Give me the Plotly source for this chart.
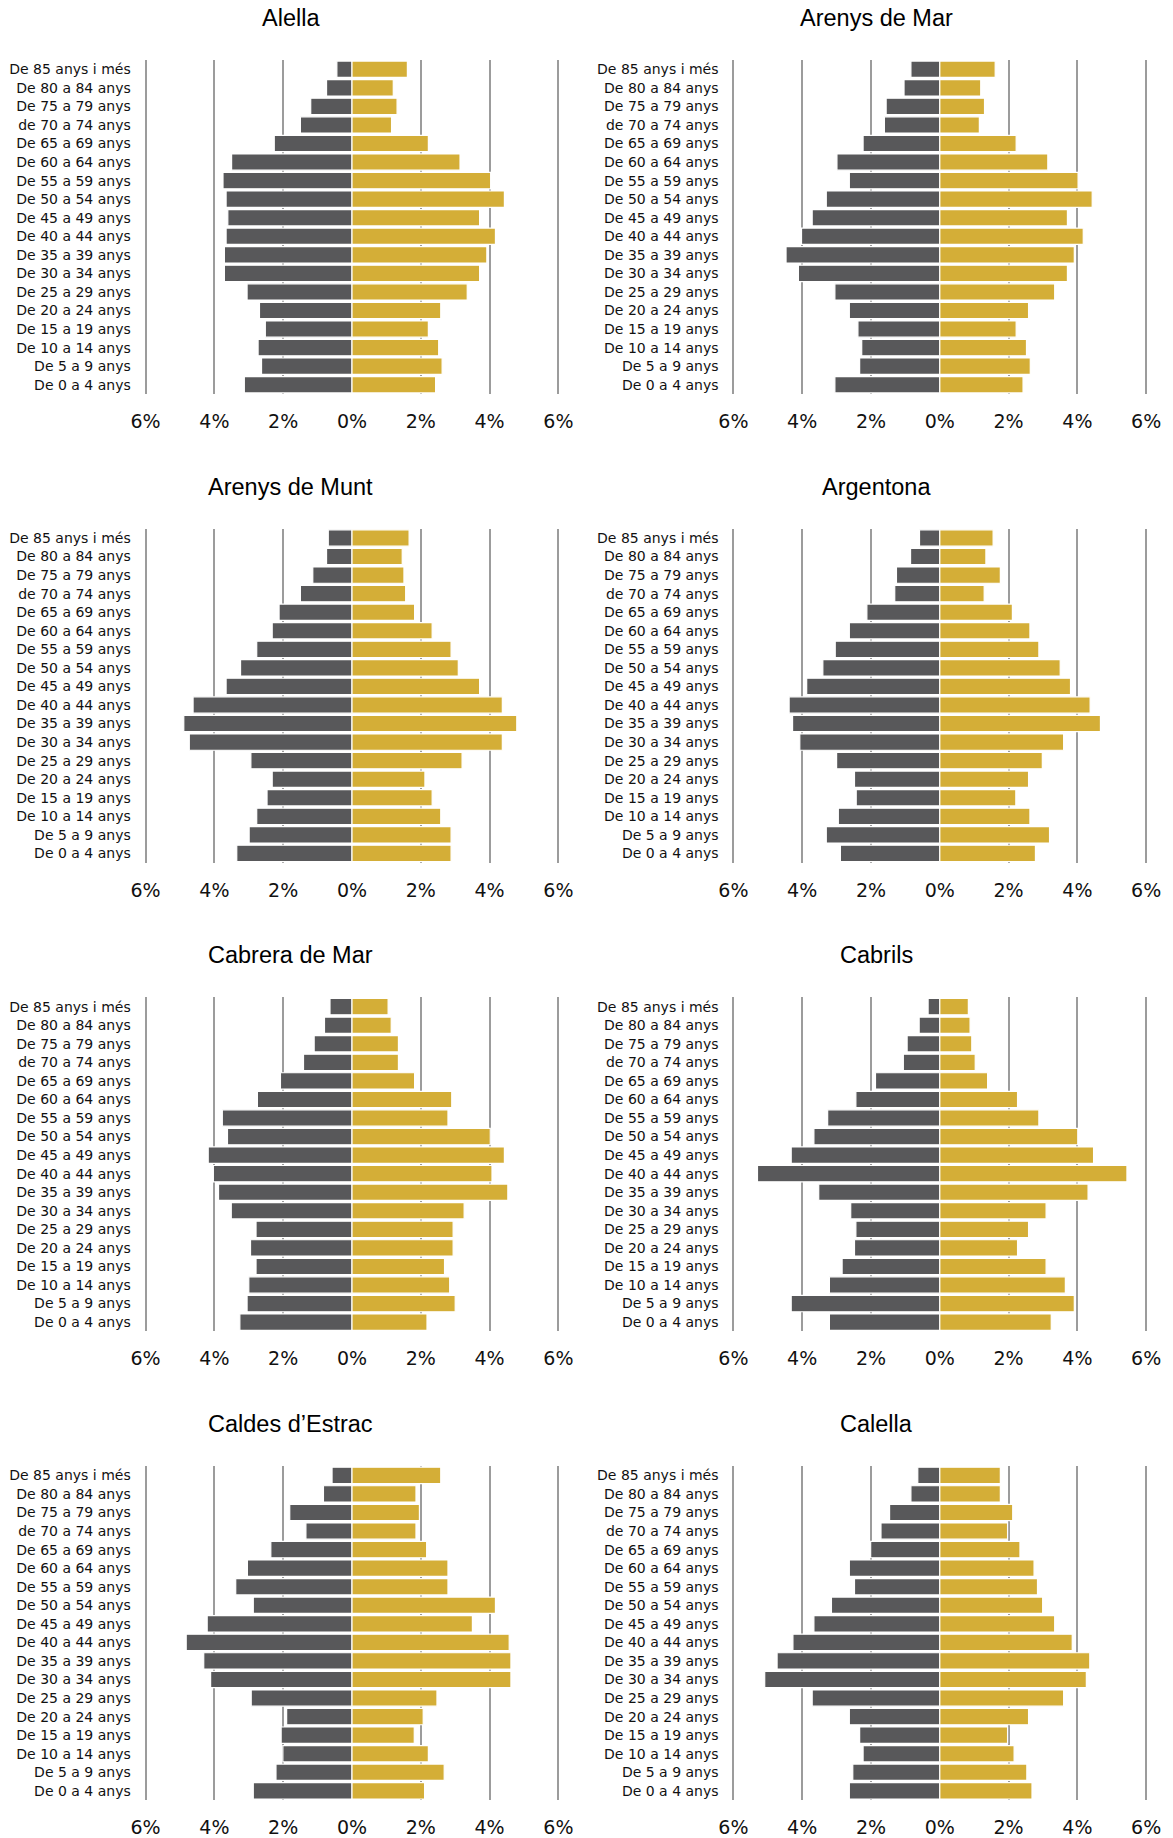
import plotly.graph_objects as go

W, H = 1173, 1838

ages = ["De 85 anys i més", "De 80 a 84 anys", "De 75 a 79 anys", "de 70 a 74 anys",
        "De 65 a 69 anys", "De 60 a 64 anys", "De 55 a 59 anys", "De 50 a 54 anys",
        "De 45 a 49 anys", "De 40 a 44 anys", "De 35 a 39 anys", "De 30 a 34 anys",
        "De 25 a 29 anys", "De 20 a 24 anys", "De 15 a 19 anys", "De 10 a 14 anys",
        "De 5 a 9 anys", "De 0 a 4 anys"]

towns = ["Alella", "Arenys de Mar", "Arenys de Munt", "Argentona",
         "Cabrera de Mar", "Cabrils", "Caldes d\u2019Estrac", "Calella"]

# percentages, ordered top (85+) to bottom (0-4)
alella_men = [0.44, 0.74, 1.20, 1.50, 2.26, 3.50, 3.75, 3.66, 3.61, 3.66, 3.71, 3.71, 3.05, 2.69, 2.52, 2.73, 2.63, 3.13]
alella_women = [1.61, 1.20, 1.31, 1.15, 2.22, 3.14, 4.03, 4.43, 3.71, 4.17, 3.92, 3.71, 3.35, 2.58, 2.22, 2.52, 2.62, 2.43]

arenysmar_men = [0.84, 1.04, 1.56, 1.61, 2.23, 2.99, 2.63, 3.30, 3.71, 4.02, 4.47, 4.11, 3.05, 2.63, 2.38, 2.27, 2.33, 3.05]
arenysmar_women = [1.61, 1.19, 1.30, 1.15, 2.22, 3.14, 4.02, 4.43, 3.71, 4.17, 3.91, 3.71, 3.34, 2.58, 2.22, 2.52, 2.63, 2.42]

arenysmunt_men = [0.69, 0.74, 1.14, 1.50, 2.12, 2.32, 2.77, 3.24, 3.66, 4.62, 4.89, 4.73, 2.94, 2.32, 2.47, 2.77, 2.99, 3.35]
arenysmunt_women = [1.66, 1.46, 1.51, 1.56, 1.82, 2.33, 2.88, 3.09, 3.71, 4.37, 4.79, 4.37, 3.20, 2.12, 2.33, 2.58, 2.88, 2.88]

argentona_men = [0.59, 0.85, 1.26, 1.31, 2.12, 2.63, 3.04, 3.40, 3.87, 4.38, 4.28, 4.07, 3.00, 2.48, 2.43, 2.95, 3.30, 2.89]
argentona_women = [1.55, 1.34, 1.76, 1.29, 2.11, 2.62, 2.88, 3.50, 3.80, 4.37, 4.67, 3.60, 2.98, 2.58, 2.21, 2.62, 3.19, 2.78]

cabrera_men = [0.64, 0.80, 1.10, 1.41, 2.08, 2.75, 3.77, 3.62, 4.18, 4.03, 3.88, 3.51, 2.79, 2.95, 2.79, 3.00, 3.05, 3.26]
cabrera_women = [1.05, 1.14, 1.35, 1.35, 1.82, 2.90, 2.79, 4.02, 4.43, 4.07, 4.53, 3.26, 2.94, 2.94, 2.69, 2.84, 3.00, 2.18]

cabrils_men = [0.34, 0.60, 0.95, 1.06, 1.87, 2.44, 3.26, 3.66, 4.32, 5.30, 3.52, 2.59, 2.44, 2.48, 2.84, 3.21, 4.32, 3.21]
cabrils_women = [0.83, 0.88, 0.93, 1.03, 1.39, 2.26, 2.88, 4.01, 4.47, 5.44, 4.31, 3.09, 2.58, 2.26, 3.09, 3.65, 3.91, 3.24]

caldes_men = [0.58, 0.83, 1.81, 1.34, 2.36, 3.04, 3.38, 2.87, 4.21, 4.82, 4.31, 4.11, 2.93, 1.90, 2.06, 2.01, 2.21, 2.87]
caldes_women = [2.58, 1.86, 1.96, 1.86, 2.17, 2.79, 2.79, 4.17, 3.50, 4.57, 4.62, 4.62, 2.47, 2.07, 1.81, 2.22, 2.68, 2.11]

calella_men = [0.64, 0.84, 1.46, 1.71, 2.01, 2.63, 2.48, 3.15, 3.66, 4.27, 4.73, 5.09, 3.71, 2.63, 2.33, 2.23, 2.53, 2.63]
calella_women = [1.76, 1.76, 2.12, 1.97, 2.33, 2.74, 2.84, 2.99, 3.34, 3.85, 4.36, 4.26, 3.60, 2.58, 1.97, 2.16, 2.53, 2.68]

men = [alella_men, arenysmar_men, arenysmunt_men, argentona_men,
       cabrera_men, cabrils_men, caldes_men, calella_men]
women = [alella_women, arenysmar_women, arenysmunt_women, argentona_women,
         cabrera_women, cabrils_women, caldes_women, calella_women]

tick_vals = [-6, -4, -2, 0, 2, 4, 6]
tick_text = ["6%", "4%", "2%", "0%", "2%", "4%", "6%"]

MEN_COLOR = "#58585A"
WOMEN_COLOR = "#D4AE37"
GRID_COLOR = "#9C9C9C"

fig = go.Figure()

XR = 6.06          # axis half-range (slightly beyond 6% so edge gridlines show)
PX_PER_PCT = 34.4  # horizontal scale
zero_x = [352.0, 939.8]
title_x = [290.6, 876.6]
row_step = 468.7

layout = {}
annotations = []
for i, town in enumerate(towns):
    r, c = divmod(i, 2)
    n = i + 1
    xa = "x" if n == 1 else f"x{n}"
    ya = "y" if n == 1 else f"y{n}"
    fig.add_trace(go.Bar(
        y=ages, x=[-v for v in men[i]], orientation="h",
        marker=dict(color=MEN_COLOR, line=dict(color="white", width=1.2)),
        xaxis=xa, yaxis=ya, showlegend=False, hoverinfo="skip"))
    fig.add_trace(go.Bar(
        y=ages, x=women[i], orientation="h",
        marker=dict(color=WOMEN_COLOR, line=dict(color="white", width=1.2)),
        xaxis=xa, yaxis=ya, showlegend=False, hoverinfo="skip"))
    top = 60 + row_step * r
    bot = 394 + row_step * r
    x0 = zero_x[c] - XR * PX_PER_PCT
    x1 = zero_x[c] + XR * PX_PER_PCT
    xkey = "xaxis" if n == 1 else f"xaxis{n}"
    ykey = "yaxis" if n == 1 else f"yaxis{n}"
    layout[xkey] = dict(
        domain=[x0 / W, x1 / W], anchor=ya, range=[-XR, XR],
        tickvals=tick_vals, ticktext=tick_text,
        showgrid=True, gridcolor=GRID_COLOR, gridwidth=2,
        zeroline=True, zerolinecolor="white", zerolinewidth=2,
        showline=False, ticks="outside", ticklen=10, tickcolor="rgba(0,0,0,0)",
        tickfont=dict(family="DejaVu Sans", size=19, color="#111111"),
        automargin=False, fixedrange=True)
    layout[ykey] = dict(
        domain=[1 - bot / H, 1 - top / H], anchor=xa,
        type="category", categoryorder="array", categoryarray=ages,
        autorange="reversed", showgrid=False, zeroline=False, showline=False,
        ticks="outside", ticklen=9, tickcolor="rgba(0,0,0,0)",
        tickfont=dict(family="DejaVu Sans", size=14, color="#111111"),
        automargin=False, fixedrange=True)
    annotations.append(dict(
        text=town, x=title_x[c] / W, y=1 - (18 + row_step * r) / H,
        xref="paper", yref="paper", xanchor="center", yanchor="middle",
        showarrow=False, font=dict(family="Liberation Sans, Arial", size=23.5, color="#000000")))

fig.update_layout(
    width=W, height=H, autosize=False,
    margin=dict(l=0, r=0, t=0, b=0, autoexpand=False),
    paper_bgcolor="white", plot_bgcolor="white",
    barmode="overlay", bargap=0.12,
    annotations=annotations,
    **layout)

fig.write_html(
    "out.html",
    config={"responsive": False, "displayModeBar": False},
    post_script="document.body.style.margin='0';document.body.style.padding='0';"
                "document.body.style.overflow='hidden';"
                "document.documentElement.style.overflow='hidden';")
